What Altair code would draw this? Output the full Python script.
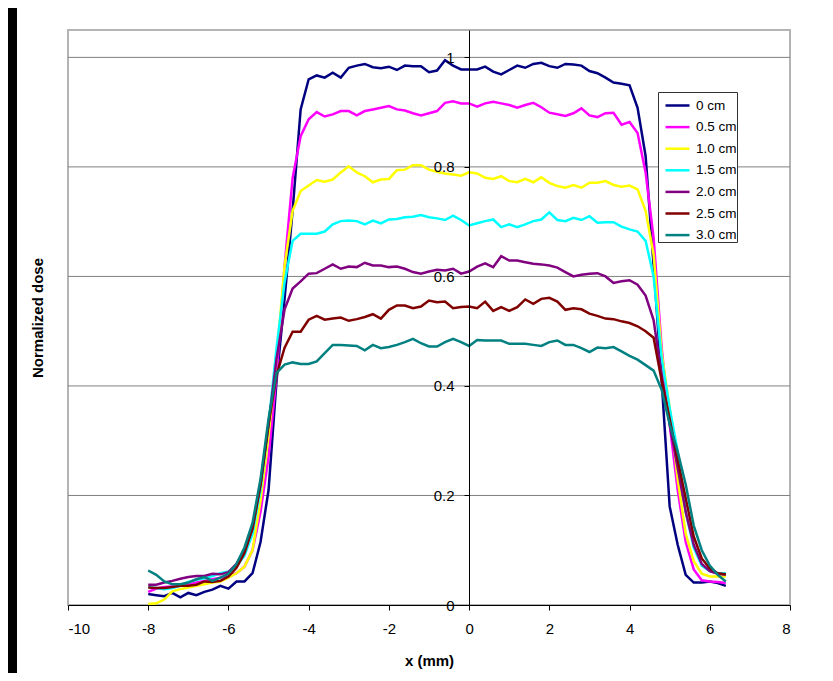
import altair as alt
import pandas as pd

# sample positions (mm)
x_mm = [-8.0, -7.8, -7.6, -7.4, -7.2, -7.0, -6.8, -6.6, -6.4, -6.2, -6.0, -5.8, -5.6, -5.4, -5.2,
        -5.0, -4.8, -4.6, -4.4, -4.2, -4.0, -3.8, -3.6, -3.4, -3.2, -3.0, -2.8, -2.6, -2.4, -2.2,
        -2.0, -1.8, -1.6, -1.4, -1.2, -1.0, -0.8, -0.6, -0.4, -0.2, 0.0, 0.2, 0.4, 0.6, 0.8,
        1.0, 1.2, 1.4, 1.6, 1.8, 2.0, 2.2, 2.4, 2.6, 2.8, 3.0, 3.2, 3.4, 3.6, 3.8,
        4.0, 4.2, 4.4, 4.6, 4.8, 5.0, 5.2, 5.4, 5.6, 5.8, 6.0, 6.2, 6.4]

d_0cm = [0.020, 0.018, 0.016, 0.022, 0.014, 0.022, 0.018, 0.024, 0.028, 0.035, 0.030, 0.043, 0.043, 0.058, 0.115, 0.21, 0.41, 0.56, 0.72, 0.905,
         0.960, 0.967, 0.963, 0.972, 0.963, 0.981, 0.985, 0.988, 0.982, 0.980, 0.983, 0.977, 0.985, 0.984, 0.984, 0.973, 0.976, 0.995, 0.985, 0.978,
         0.978, 0.978, 0.983, 0.974, 0.969, 0.977, 0.985, 0.981, 0.988, 0.990, 0.984, 0.981, 0.988, 0.987, 0.985, 0.975, 0.971, 0.963, 0.954, 0.952,
         0.949, 0.908, 0.82, 0.62, 0.41, 0.18, 0.11, 0.055, 0.041, 0.041, 0.043, 0.040, 0.035]

d_05cm = [0.024, 0.030, 0.033, 0.034, 0.035, 0.037, 0.041, 0.044, 0.047, 0.050, 0.052, 0.058, 0.070, 0.10, 0.17, 0.27, 0.42, 0.62, 0.78, 0.856,
          0.887, 0.900, 0.892, 0.896, 0.902, 0.902, 0.894, 0.902, 0.905, 0.908, 0.911, 0.905, 0.903, 0.898, 0.894, 0.898, 0.902, 0.917, 0.920, 0.916,
          0.916, 0.910, 0.916, 0.919, 0.916, 0.913, 0.908, 0.913, 0.917, 0.909, 0.899, 0.896, 0.893, 0.898, 0.907, 0.894, 0.891, 0.898, 0.899, 0.877,
          0.882, 0.862, 0.79, 0.67, 0.47, 0.33, 0.21, 0.115, 0.065, 0.045, 0.043, 0.042, 0.040]

d_10cm = [0.002, 0.003, 0.010, 0.025, 0.029, 0.032, 0.035, 0.038, 0.041, 0.043, 0.050, 0.058, 0.070, 0.10, 0.19, 0.31, 0.45, 0.62, 0.72, 0.756,
          0.766, 0.776, 0.773, 0.777, 0.790, 0.801, 0.790, 0.783, 0.772, 0.777, 0.778, 0.794, 0.795, 0.803, 0.803, 0.795, 0.791, 0.788, 0.786, 0.784,
          0.790, 0.788, 0.780, 0.778, 0.783, 0.774, 0.772, 0.778, 0.772, 0.781, 0.771, 0.765, 0.762, 0.767, 0.762, 0.771, 0.771, 0.774, 0.767, 0.764,
          0.766, 0.759, 0.72, 0.64, 0.46, 0.36, 0.23, 0.13, 0.08, 0.057, 0.052, 0.052, 0.052]

d_15cm = [0.033, 0.031, 0.029, 0.031, 0.035, 0.042, 0.046, 0.049, 0.053, 0.058, 0.061, 0.070, 0.09, 0.13, 0.21, 0.33, 0.47, 0.59, 0.665, 0.678,
          0.678, 0.678, 0.682, 0.695, 0.701, 0.702, 0.701, 0.695, 0.702, 0.697, 0.704, 0.705, 0.708, 0.709, 0.712, 0.708, 0.706, 0.703, 0.711, 0.703,
          0.693, 0.697, 0.701, 0.704, 0.690, 0.695, 0.690, 0.695, 0.701, 0.704, 0.717, 0.703, 0.701, 0.707, 0.703, 0.710, 0.698, 0.699, 0.699, 0.691,
          0.686, 0.682, 0.665, 0.60, 0.45, 0.36, 0.28, 0.17, 0.105, 0.072, 0.062, 0.058, 0.058]

d_20cm = [0.037, 0.037, 0.041, 0.044, 0.048, 0.051, 0.053, 0.053, 0.057, 0.056, 0.060, 0.075, 0.10, 0.14, 0.22, 0.33, 0.45, 0.54, 0.578, 0.591,
          0.605, 0.606, 0.614, 0.622, 0.614, 0.618, 0.617, 0.625, 0.620, 0.620, 0.617, 0.618, 0.614, 0.608, 0.605, 0.609, 0.612, 0.611, 0.614, 0.605,
          0.609, 0.618, 0.624, 0.617, 0.637, 0.629, 0.629, 0.626, 0.623, 0.622, 0.620, 0.616, 0.608, 0.600, 0.603, 0.605, 0.606, 0.600, 0.588, 0.591,
          0.593, 0.585, 0.565, 0.52, 0.42, 0.33, 0.25, 0.17, 0.11, 0.075, 0.062, 0.057, 0.055]

d_25cm = [0.032, 0.031, 0.031, 0.033, 0.035, 0.035, 0.037, 0.043, 0.042, 0.044, 0.052, 0.068, 0.095, 0.14, 0.22, 0.33, 0.42, 0.47, 0.499, 0.499,
          0.521, 0.528, 0.521, 0.523, 0.525, 0.519, 0.522, 0.526, 0.531, 0.523, 0.539, 0.547, 0.547, 0.542, 0.545, 0.556, 0.553, 0.554, 0.542, 0.544,
          0.545, 0.542, 0.554, 0.537, 0.544, 0.537, 0.544, 0.558, 0.550, 0.559, 0.561, 0.554, 0.539, 0.542, 0.540, 0.532, 0.528, 0.523, 0.522, 0.518,
          0.515, 0.509, 0.500, 0.488, 0.41, 0.34, 0.265, 0.195, 0.125, 0.085, 0.067, 0.058, 0.056]

d_30cm = [0.063, 0.055, 0.043, 0.038, 0.038, 0.041, 0.047, 0.051, 0.044, 0.050, 0.057, 0.075, 0.105, 0.15, 0.23, 0.34, 0.424, 0.439, 0.443, 0.440,
          0.440, 0.445, 0.460, 0.475, 0.475, 0.474, 0.473, 0.465, 0.475, 0.469, 0.471, 0.475, 0.480, 0.486, 0.478, 0.472, 0.472, 0.480, 0.486, 0.480,
          0.473, 0.484, 0.483, 0.483, 0.483, 0.477, 0.477, 0.477, 0.475, 0.473, 0.480, 0.483, 0.475, 0.475, 0.469, 0.462, 0.470, 0.469, 0.471, 0.463,
          0.455, 0.448, 0.438, 0.428, 0.393, 0.33, 0.28, 0.22, 0.145, 0.10, 0.072, 0.055, 0.043]

series_names = ["0 cm", "0.5 cm", "1.0 cm", "1.5 cm", "2.0 cm", "2.5 cm", "3.0 cm"]
series_values = [d_0cm, d_05cm, d_10cm, d_15cm, d_20cm, d_25cm, d_30cm]
series_colors = ["#000080", "#FF00FF", "#FFFF00", "#00FFFF", "#800080", "#800000", "#008080"]

x_ticks = [-10, -8, -6, -4, -2, 0, 2, 4, 6, 8]
y_ticks = [0, 0.2, 0.4, 0.6, 0.8, 1.0]
grid_vals = [0.2, 0.4, 0.6, 0.8, 1.0]

rows = []
for order, (name, vals) in enumerate(zip(series_names, series_values)):
    for xv, yv in zip(x_mm, vals):
        rows.append({"x": xv, "dose": yv, "series": name, "order": order})
df = pd.DataFrame(rows)

FONT = "Liberation Sans"
W, H = 722, 575

xscale = alt.Scale(domain=[-10, 8], nice=False, zero=False)
yscale = alt.Scale(domain=[0, 1.05], nice=False, zero=True)

strip = alt.Chart(alt.Data(values=[{}])).mark_rect(color="black").encode(
    x=alt.value(-60), x2=alt.value(-51), y=alt.value(-22), y2=alt.value(651)
)

grid = alt.Chart(pd.DataFrame({"g": grid_vals})).mark_rule(color="#808080", strokeWidth=1).encode(
    y=alt.Y("g:Q", scale=yscale)
)

lines = alt.Chart(df).mark_line(strokeWidth=2.5).encode(
    x=alt.X("x:Q", scale=xscale,
            axis=alt.Axis(values=x_ticks, labelExpr="datum.value + ''", grid=False,
                          domainColor="black", tickColor="black", tickSize=5, labelPadding=11,
                          labelFont=FONT, labelFontSize=15, labelColor="black",
                          title="x (mm)", titleFont=FONT, titleFontSize=15,
                          titleFontWeight="bold", titleColor="black",
                          titleY=48, titleBaseline="top", zindex=1)),
    y=alt.Y("dose:Q", scale=yscale,
            axis=alt.Axis(values=y_ticks, format="~g", grid=False, domainColor="black",
                          tickColor="black", tickSize=5, labelPadding=10,
                          offset=-401, labelFont=FONT, labelFontSize=15, labelColor="black",
                          title="Normalized dose", titleFont=FONT, titleFontSize=15,
                          titleFontWeight="bold", titleColor="black",
                          titleX=-424, titleY=H / 2, zindex=1)),
    color=alt.Color("series:N", sort=series_names,
                    scale=alt.Scale(domain=series_names, range=series_colors),
                    legend=alt.Legend(title=None, orient="none", legendX=590, legendY=62,
                                      direction="vertical", symbolType="stroke",
                                      symbolSize=576, symbolStrokeWidth=2.5, symbolOffset=6,
                                      labelFont=FONT, labelFontSize=13.5, labelColor="black",
                                      labelOffset=5, strokeColor="#333333", fillColor="white",
                                      padding=0, rowPadding=1.6)),
    order=alt.Order("order:Q"),
)

chart = alt.layer(strip, grid, lines).properties(
    width=W, height=H,
    autosize=alt.AutoSizeParams(type="none"),
    padding={"left": 60, "top": 22, "right": 35, "bottom": 68},
    background="white",
).configure_view(stroke="#b4b4b4", strokeWidth=2)

chart.save("out.html", embed_options={"renderer": "svg", "actions": False})
